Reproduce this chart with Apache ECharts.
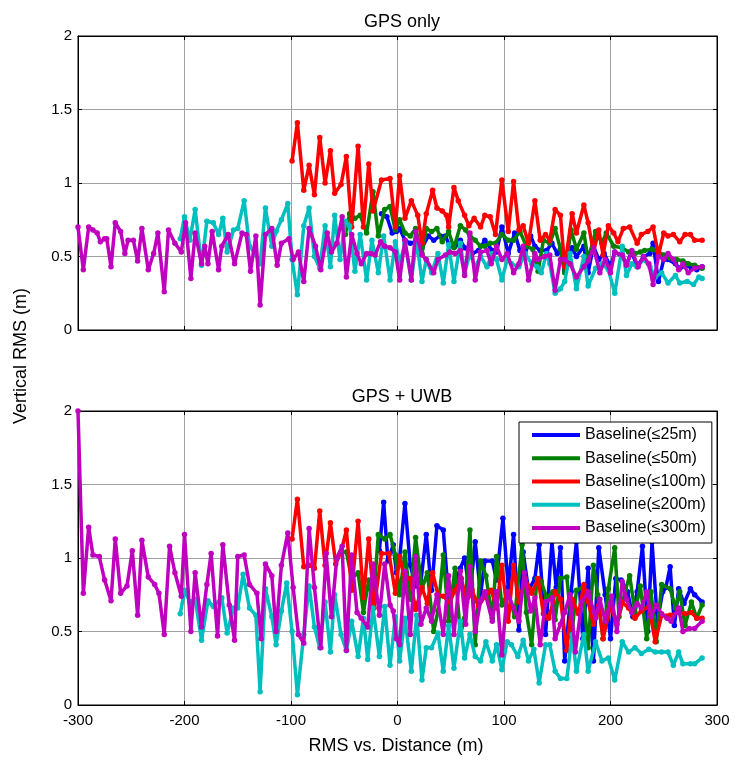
<!DOCTYPE html>
<html>
<head>
<meta charset="utf-8">
<script src="https://cdn.jsdelivr.net/npm/echarts@6/dist/echarts.min.js"></script>
<style>
  html, body { margin: 0; padding: 0; background: #fff; }
  #chart { width: 735px; height: 761px; }
</style>
</head>
<body>
<div id="chart"></div>
<script>
  // series names (legend)
  const baselineNames = ['Baseline(≤25m)', 'Baseline(≤50m)', 'Baseline(≤100m)', 'Baseline(≤200m)', 'Baseline(≤300m)'];
  const baselineColors = ['#0000ff', '#008000', '#ff0000', '#00bfbf', '#bf00bf'];
  const xTicks = [-300, -200, -100, 0, 100, 200, 300];
  const yTicks = [0, 0.5, 1, 1.5, 2];

  // ---- GPS only : [distance, vertical RMS] ----
  const gps25 = [[-15,0.79],[-10,0.77],[-5,0.66],[-1,0.67],[2,0.69],[7,0.61],[12,0.59],[17,0.60],[23,0.56],[29,0.64],[34,0.61],[40,0.64],[45,0.64],[49,0.57],[54,0.57],[59,0.61],[63,0.56],[70,0.52],[76,0.54],[82,0.61],[89,0.54],[93,0.53],[98,0.70],[104,0.52],[110,0.66],[115,0.54],[120,0.52],[125,0.64],[129,0.57],[134,0.54],[140,0.54],[145,0.59],[150,0.52],[153,0.55],[157,0.40],[164,0.56],[168,0.50],[175,0.57],[179,0.39],[184,0.57],[189,0.48],[194,0.52],[200,0.43],[204,0.53],[211,0.50],[215,0.45],[220,0.53],[225,0.43],[231,0.50],[237,0.52],[240,0.59],[245,0.33],[250,0.48],[254,0.48],[261,0.45],[265,0.42],[272,0.44],[276,0.42],[281,0.41],[286,0.43]];
  const gps50 = [[-49,0.65],[-45,0.79],[-40,0.76],[-35,0.78],[-29,0.66],[-23,0.94],[-18,0.64],[-12,0.82],[-7,0.84],[-2,0.68],[2,0.75],[7,0.66],[12,0.64],[17,0.69],[23,0.52],[27,0.69],[32,0.67],[37,0.69],[42,0.60],[48,0.67],[53,0.56],[59,0.71],[64,0.68],[68,0.64],[73,0.61],[78,0.57],[82,0.57],[87,0.59],[92,0.59],[98,0.65],[104,0.61],[109,0.61],[115,0.67],[121,0.57],[127,0.55],[132,0.40],[137,0.61],[143,0.59],[148,0.69],[153,0.55],[157,0.39],[163,0.68],[168,0.55],[175,0.66],[179,0.48],[186,0.67],[192,0.59],[196,0.66],[203,0.57],[211,0.56],[217,0.53],[223,0.52],[228,0.53],[232,0.54],[239,0.55],[245,0.53],[250,0.51],[256,0.49],[262,0.48],[268,0.47],[273,0.45],[279,0.44],[286,0.42]];
  const gps100 = [[-99,1.15],[-94,1.41],[-88,0.95],[-83,1.12],[-78,0.92],[-73,1.31],[-68,1.00],[-63,1.22],[-59,0.93],[-53,0.99],[-48,1.18],[-43,0.70],[-37,1.25],[-32,0.70],[-27,1.13],[-23,0.81],[-15,1.02],[-7,1.03],[-2,0.70],[2,1.05],[7,0.76],[13,0.88],[19,0.78],[23,0.59],[27,0.79],[33,0.95],[37,0.83],[42,0.81],[46,0.78],[48,0.70],[53,0.97],[57,0.88],[63,0.78],[67,0.71],[72,0.76],[78,0.70],[82,0.78],[87,0.77],[92,0.65],[98,1.02],[104,0.67],[109,1.01],[114,0.68],[118,0.71],[123,0.59],[129,0.88],[134,0.61],[139,0.65],[143,0.61],[148,0.82],[153,0.78],[157,0.43],[164,0.79],[168,0.66],[175,0.85],[179,0.73],[184,0.53],[189,0.68],[193,0.51],[198,0.71],[203,0.66],[207,0.60],[212,0.69],[218,0.70],[225,0.59],[229,0.65],[235,0.67],[240,0.70],[245,0.51],[250,0.66],[254,0.64],[259,0.65],[265,0.60],[270,0.65],[275,0.65],[279,0.61],[286,0.61]];
  const gps200 = [[-204,0.62],[-200,0.77],[-195,0.61],[-190,0.82],[-184,0.44],[-179,0.74],[-173,0.73],[-168,0.65],[-164,0.76],[-160,0.53],[-154,0.68],[-150,0.69],[-144,0.88],[-139,0.57],[-134,0.52],[-129,0.45],[-124,0.83],[-118,0.57],[-114,0.67],[-109,0.75],[-103,0.86],[-99,0.48],[-94,0.24],[-88,0.71],[-83,0.83],[-78,0.50],[-73,0.42],[-68,0.71],[-63,0.43],[-59,0.78],[-54,0.48],[-49,0.74],[-45,0.71],[-40,0.40],[-35,0.65],[-29,0.34],[-24,0.61],[-18,0.39],[-13,0.64],[-7,0.34],[-2,0.60],[2,0.45],[7,0.59],[13,0.34],[18,0.61],[23,0.33],[27,0.48],[32,0.39],[38,0.52],[43,0.32],[48,0.58],[53,0.33],[59,0.59],[63,0.39],[68,0.52],[73,0.43],[78,0.50],[84,0.43],[89,0.52],[93,0.48],[98,0.34],[103,0.48],[107,0.45],[114,0.43],[120,0.52],[126,0.45],[131,0.43],[135,0.39],[140,0.52],[143,0.45],[148,0.25],[153,0.28],[157,0.33],[162,0.52],[168,0.28],[175,0.50],[179,0.30],[186,0.42],[192,0.45],[198,0.41],[204,0.25],[211,0.57],[215,0.37],[220,0.45],[225,0.43],[231,0.48],[237,0.43],[242,0.36],[248,0.39],[254,0.32],[261,0.37],[265,0.32],[272,0.33],[278,0.31],[283,0.36],[286,0.35]];
  const gps300 = [[-300,0.70],[-295,0.41],[-290,0.70],[-286,0.68],[-282,0.66],[-279,0.60],[-275,0.62],[-273,0.62],[-269,0.43],[-265,0.73],[-260,0.67],[-256,0.52],[-253,0.61],[-248,0.61],[-244,0.47],[-240,0.69],[-234,0.41],[-229,0.52],[-225,0.66],[-219,0.26],[-215,0.68],[-209,0.59],[-203,0.53],[-199,0.73],[-194,0.35],[-190,0.66],[-184,0.45],[-181,0.57],[-178,0.45],[-174,0.67],[-168,0.41],[-165,0.57],[-159,0.65],[-153,0.45],[-146,0.66],[-142,0.65],[-138,0.40],[-133,0.64],[-129,0.17],[-124,0.65],[-118,0.69],[-113,0.44],[-109,0.59],[-102,0.62],[-98,0.48],[-93,0.53],[-88,0.33],[-83,0.69],[-77,0.57],[-72,0.41],[-66,0.66],[-62,0.53],[-57,0.59],[-52,0.77],[-48,0.36],[-43,0.65],[-38,0.52],[-34,0.45],[-29,0.52],[-25,0.52],[-21,0.51],[-16,0.60],[-12,0.57],[-7,0.56],[-2,0.53],[2,0.34],[7,0.61],[13,0.34],[17,0.67],[23,0.51],[27,0.48],[34,0.39],[38,0.48],[45,0.51],[49,0.53],[54,0.52],[59,0.54],[63,0.37],[68,0.66],[73,0.34],[78,0.53],[84,0.54],[88,0.45],[93,0.57],[98,0.48],[103,0.52],[109,0.39],[114,0.45],[118,0.57],[123,0.34],[129,0.52],[132,0.48],[138,0.50],[143,0.51],[148,0.27],[153,0.48],[157,0.48],[162,0.45],[168,0.36],[175,0.43],[179,0.47],[184,0.56],[190,0.39],[195,0.48],[200,0.39],[204,0.53],[211,0.51],[215,0.44],[220,0.54],[226,0.43],[231,0.50],[236,0.45],[240,0.31],[245,0.50],[250,0.48],[254,0.52],[259,0.48],[264,0.41],[268,0.45],[273,0.39],[279,0.42],[286,0.43]];

  // ---- GPS + UWB ----
  const uwb25 = [[-17,1.05],[-13,1.38],[-9,0.98],[-4,1.09],[-1,0.90],[2,1.00],[7,1.37],[12,0.95],[17,0.81],[22,0.84],[27,1.16],[32,0.78],[37,1.22],[43,1.19],[48,0.73],[53,0.80],[59,0.93],[63,1.00],[68,0.75],[73,1.11],[78,0.75],[82,0.98],[89,0.98],[93,0.85],[99,1.27],[104,0.80],[109,1.16],[114,0.51],[118,1.04],[123,0.78],[129,0.86],[133,1.09],[139,0.48],[145,1.11],[149,0.80],[153,1.07],[157,0.30],[163,0.77],[168,1.11],[174,0.45],[179,0.93],[184,0.30],[189,1.07],[195,0.75],[200,0.45],[205,0.86],[210,0.85],[216,0.77],[221,0.60],[225,0.77],[230,1.08],[235,0.50],[239,1.11],[244,0.57],[249,0.77],[252,0.80],[256,0.94],[260,0.54],[264,0.79],[269,0.69],[275,0.79],[279,0.75],[286,0.70]];
  const uwb50 = [[-48,1.04],[-43,0.86],[-37,0.90],[-32,0.63],[-27,0.85],[-23,0.68],[-18,1.16],[-12,1.13],[-7,1.16],[-2,1.02],[2,0.75],[7,1.04],[12,0.72],[17,1.14],[23,0.79],[28,0.90],[34,0.50],[38,0.64],[43,1.02],[48,0.57],[54,0.93],[59,0.48],[63,0.59],[68,1.19],[73,0.41],[78,0.98],[83,0.88],[89,0.59],[93,1.01],[98,0.68],[104,0.77],[110,0.60],[117,1.09],[121,0.63],[126,0.41],[131,0.86],[135,0.84],[140,0.73],[146,0.77],[148,0.58],[153,0.86],[159,0.87],[164,0.50],[168,0.78],[174,0.80],[179,0.39],[184,0.95],[188,0.75],[193,0.45],[198,0.79],[204,1.07],[208,0.60],[214,0.78],[218,0.88],[223,0.63],[228,0.81],[234,0.45],[238,0.77],[243,0.43],[248,0.82],[256,0.79],[261,0.66],[265,0.77],[270,0.54],[276,0.70],[281,0.59],[286,0.68]];
  const uwb100 = [[-99,1.13],[-94,1.40],[-88,0.94],[-83,0.95],[-78,0.93],[-73,1.32],[-68,0.95],[-63,1.24],[-58,0.96],[-53,1.04],[-48,1.19],[-43,0.78],[-37,1.25],[-32,0.73],[-27,1.13],[-22,0.66],[-15,1.03],[-8,1.03],[-2,0.76],[2,1.01],[7,0.85],[12,0.86],[17,0.65],[23,0.80],[28,0.69],[33,0.90],[38,0.75],[43,0.74],[49,0.70],[54,0.78],[60,0.86],[65,0.70],[70,0.78],[76,0.67],[82,0.74],[88,0.78],[93,0.66],[98,0.95],[104,0.57],[109,0.95],[114,0.70],[120,0.86],[126,0.76],[132,0.86],[137,0.62],[142,0.59],[146,0.70],[148,0.77],[153,0.72],[159,0.37],[164,0.72],[170,0.62],[175,0.82],[179,0.70],[184,0.55],[189,0.68],[193,0.45],[200,0.68],[206,0.55],[211,0.70],[217,0.66],[223,0.59],[229,0.64],[236,0.67],[242,0.43],[248,0.61],[256,0.61],[264,0.63],[270,0.62],[276,0.63],[281,0.59],[286,0.59]];
  const uwb200 = [[-204,0.62],[-200,0.78],[-195,0.70],[-190,0.72],[-184,0.44],[-178,0.71],[-173,0.67],[-165,0.73],[-160,0.49],[-154,0.66],[-150,0.66],[-145,0.89],[-139,0.66],[-133,0.61],[-129,0.09],[-124,0.79],[-118,0.60],[-114,0.41],[-109,0.64],[-104,0.83],[-99,0.50],[-94,0.07],[-88,0.48],[-83,0.81],[-78,0.53],[-73,0.39],[-68,0.70],[-63,0.36],[-59,0.75],[-53,0.48],[-48,0.37],[-43,0.57],[-37,0.33],[-32,0.59],[-28,0.31],[-23,0.66],[-17,0.33],[-12,0.67],[-7,0.27],[-2,0.60],[2,0.30],[7,0.59],[13,0.23],[18,0.61],[23,0.17],[27,0.39],[32,0.39],[38,0.49],[43,0.23],[48,0.54],[53,0.25],[59,0.57],[63,0.32],[68,0.48],[73,0.33],[78,0.30],[83,0.43],[89,0.30],[93,0.41],[98,0.24],[103,0.43],[107,0.41],[113,0.33],[118,0.44],[123,0.30],[128,0.38],[133,0.15],[139,0.41],[143,0.41],[148,0.23],[153,0.18],[159,0.18],[164,0.48],[168,0.23],[175,0.48],[179,0.23],[186,0.43],[192,0.30],[198,0.32],[204,0.17],[211,0.43],[217,0.36],[223,0.39],[229,0.35],[236,0.38],[242,0.36],[248,0.36],[254,0.36],[259,0.27],[264,0.36],[268,0.28],[275,0.28],[279,0.28],[286,0.32]];
  const uwb300 = [[-300,2.0],[-295,0.76],[-290,1.21],[-286,1.02],[-280,1.01],[-275,0.85],[-269,0.71],[-265,1.13],[-260,0.76],[-254,0.81],[-249,1.05],[-244,0.61],[-240,1.12],[-234,0.87],[-228,0.82],[-224,0.76],[-219,0.48],[-214,1.08],[-209,0.90],[-203,0.74],[-200,1.16],[-194,0.50],[-190,0.90],[-184,0.53],[-179,0.82],[-175,1.03],[-169,0.47],[-164,1.09],[-158,0.68],[-153,0.44],[-150,1.01],[-144,1.02],[-139,0.82],[-132,0.76],[-128,0.45],[-124,0.96],[-118,0.88],[-114,0.50],[-109,0.95],[-103,1.17],[-98,0.80],[-93,0.48],[-88,0.42],[-83,1.20],[-78,0.80],[-72,0.39],[-67,1.03],[-62,0.60],[-57,1.00],[-52,1.08],[-48,0.37],[-43,1.02],[-38,0.63],[-34,0.59],[-28,0.53],[-23,0.96],[-17,0.61],[-12,0.96],[-7,0.68],[-4,0.64],[-1,0.45],[2,0.41],[7,0.91],[12,0.48],[17,1.01],[22,0.55],[27,0.66],[32,0.57],[37,0.75],[43,0.48],[48,0.88],[53,0.48],[59,0.91],[64,0.55],[68,0.94],[73,0.50],[78,0.71],[82,0.77],[89,0.57],[93,0.77],[98,0.34],[103,0.77],[109,0.66],[114,0.57],[119,0.90],[125,0.64],[129,0.73],[134,0.41],[139,0.70],[145,0.73],[148,0.45],[153,0.55],[157,0.63],[162,0.75],[167,0.36],[173,0.70],[179,0.77],[186,0.59],[190,0.72],[195,0.57],[201,0.74],[206,0.50],[211,0.84],[215,0.72],[220,0.63],[225,0.69],[229,0.66],[234,0.77],[238,0.60],[243,0.68],[248,0.62],[253,0.59],[257,0.57],[264,0.66],[268,0.50],[274,0.52],[279,0.52],[286,0.57]];

  const gpsSets = [gps25, gps50, gps100, gps200, gps300];
  const uwbSets = [uwb25, uwb50, uwb100, uwb200, uwb300];

  const FONT = 'Liberation Sans, Arial, sans-serif';

  const chart = echarts.init(document.getElementById('chart'), null, { renderer: 'canvas' });

  const grids = [
    { left: 78, top: 36, width: 639, height: 294, show: true, borderColor: '#000', borderWidth: 1, backgroundColor: '#fff' },
    { left: 78, top: 411, width: 639, height: 294, show: true, borderColor: '#000', borderWidth: 1, backgroundColor: '#fff' },
  ];

  const xAxisBase = (gridIndex, position, showLabel, showSplit) => ({
    type: 'value',
    gridIndex: gridIndex,
    position: position,
    min: xTicks[0],
    max: xTicks[xTicks.length - 1],
    interval: 100,
    axisLine: { show: true, onZero: false, lineStyle: { color: '#000', width: 1 } },
    axisTick: { show: true, inside: true, length: 4, lineStyle: { color: '#000' } },
    axisLabel: { show: showLabel, color: '#000', fontSize: 15, fontFamily: FONT, margin: 8 },
    splitLine: { show: showSplit, lineStyle: { color: '#a0a0a0', width: 1 } },
  });

  const yAxisBase = (gridIndex, position, showLabel, showSplit) => ({
    type: 'value',
    gridIndex: gridIndex,
    position: position,
    min: yTicks[0],
    max: yTicks[yTicks.length - 1],
    interval: 0.5,
    axisLine: { show: true, onZero: false, lineStyle: { color: '#000', width: 1 } },
    axisTick: { show: true, inside: true, length: 4, lineStyle: { color: '#000' } },
    axisLabel: { show: showLabel, color: '#000', fontSize: 15, fontFamily: FONT, margin: 6 },
    splitLine: { show: showSplit, lineStyle: { color: '#a0a0a0', width: 1 } },
  });

  const makeSeries = (sets, axisIndex) => sets.map((data, i) => ({
    name: baselineNames[i],
    type: 'line',
    xAxisIndex: axisIndex,
    yAxisIndex: axisIndex,
    data: data,
    symbol: 'circle',
    symbolSize: 5.5,
    showSymbol: true,
    color: baselineColors[i],
    lineStyle: { width: 3.5, color: baselineColors[i] },
    itemStyle: { color: baselineColors[i] },
    clip: true,
    z: 2 + i,
  }));

  const option = {
    animation: false,
    backgroundColor: '#fff',
    title: [
      { text: 'GPS only', left: 397, top: 8, textAlign: 'center',
        textStyle: { fontFamily: FONT, fontSize: 18, fontWeight: 'normal', color: '#000' } },
      { text: 'GPS + UWB', left: 397, top: 383, textAlign: 'center',
        textStyle: { fontFamily: FONT, fontSize: 18, fontWeight: 'normal', color: '#000' } },
    ],
    grid: grids,
    xAxis: [
      xAxisBase(0, 'bottom', false, true),
      xAxisBase(1, 'bottom', true, true),
      xAxisBase(0, 'top', false, false),
      xAxisBase(1, 'top', false, false),
    ],
    yAxis: [
      yAxisBase(0, 'left', true, true),
      yAxisBase(1, 'left', true, true),
      yAxisBase(0, 'right', false, false),
      yAxisBase(1, 'right', false, false),
    ],
    legend: {
      data: baselineNames.map((n) => ({ name: n, icon: 'rect' })),
      orient: 'vertical',
      left: 519,
      top: 422,
      padding: [5, 6, 7, 13],
      itemGap: 7.25,
      itemWidth: 48,
      itemHeight: 4,
      backgroundColor: '#fff',
      borderColor: '#000',
      borderWidth: 1,
      textStyle: { fontFamily: FONT, fontSize: 16, color: '#000' },
    },
    graphic: [
      { type: 'text', x: 21, y: 356, rotation: Math.PI / 2,
        style: { text: 'Vertical RMS (m)', font: '18px ' + FONT, fill: '#000', align: 'center', verticalAlign: 'middle' } },
      { type: 'text', x: 396, y: 746,
        style: { text: 'RMS vs. Distance (m)', font: '18px ' + FONT, fill: '#000', align: 'center', verticalAlign: 'middle' } },
    ],
    series: [].concat(makeSeries(gpsSets, 0), makeSeries(uwbSets, 1)),
  };

  chart.setOption(option);
</script>
</body>
</html>
